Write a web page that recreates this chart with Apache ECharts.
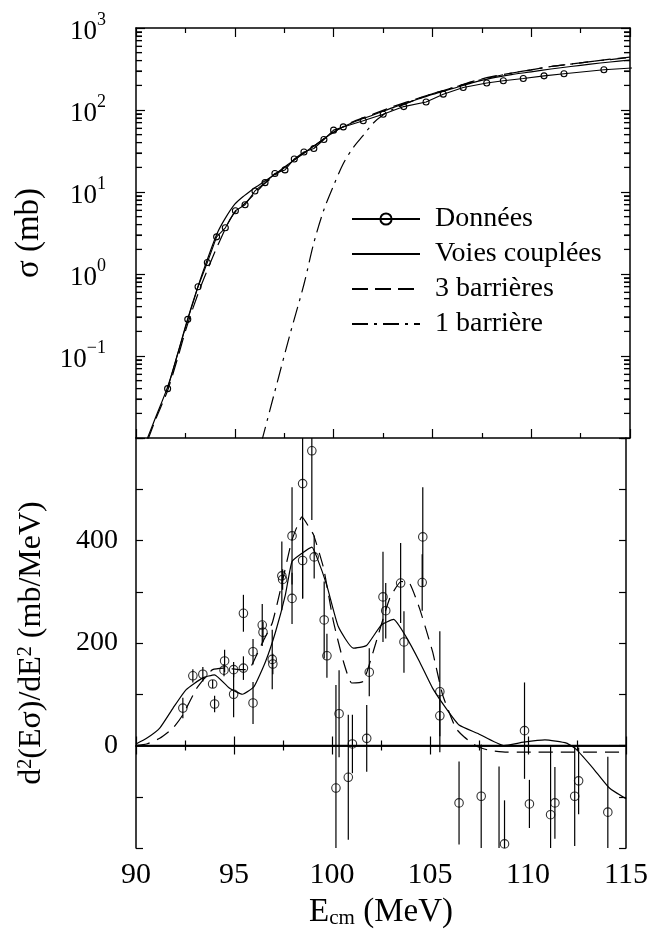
<!DOCTYPE html>
<html><head><meta charset="utf-8">
<script src="https://cdn.jsdelivr.net/npm/echarts@6/dist/echarts.min.js"></script>
<style>html,body{margin:0;padding:0;background:#fff}#c{width:651px;height:935px}</style>
</head><body><div id="c"></div>
<script>
const FONT = '"Liberation Serif", "DejaVu Serif", serif';

// ---------- Top panel (sigma, log scale) ----------
const topDataE = [91.6, 92.62, 93.14, 93.61, 94.08, 94.52, 95.03, 95.52, 96.02, 96.53, 97.03, 97.54, 98.01, 98.5, 99.0, 99.51, 100.0, 100.49, 101.5, 102.51, 103.55, 104.68, 105.55, 106.56, 107.75, 108.59, 109.6, 110.65, 111.66, 113.68, 115.7];
const topDataSigma = [0.040, 0.28, 0.70, 1.38, 2.84, 3.66, 5.9, 7.0, 10.3, 13.0, 16.8, 18.6, 25.3, 30.8, 33.9, 43.7, 56.8, 62.2, 73.8, 88.9, 110, 125, 156, 188, 213, 227, 242, 261, 277, 309, 333];

const topCoupledE = [90.5, 91.0, 91.6, 92.1, 92.6, 93.1, 93.6, 94.1, 94.5, 95.0, 95.5, 96.0, 96.5, 97.0, 98.0, 99.0, 100.0, 101.0, 102.0, 103.0, 104.0, 105.0, 106.0, 107.0, 108.0, 109.0, 110.0, 111.0, 112.0, 113.0, 114.0, 115.0];
const topCoupledSigma = [0.0089, 0.018, 0.042, 0.105, 0.275, 0.66, 1.48, 3.1, 4.7, 7.1, 9.1, 11.2, 13.5, 16.2, 24.5, 36.3, 53.7, 70.8, 87, 107, 129, 155, 182, 214, 245, 270, 292, 316, 339, 363, 385, 407];

const top3BarE = [90.6, 91.0, 91.6, 92.1, 92.6, 93.2, 93.7, 94.25, 94.9, 95.6, 96.0, 96.5, 97.0, 98.0, 99.0, 100.0, 101.0, 102.0, 103.0, 104.0, 105.0, 106.0, 107.0, 108.0, 109.0, 110.0, 111.0, 112.0, 113.0, 114.0, 115.0];
const top3BarSigma = [0.0095, 0.017, 0.038, 0.093, 0.24, 0.63, 1.26, 2.57, 5.25, 7.6, 9.5, 12.6, 15.8, 24.5, 36.3, 53.7, 72.4, 89, 110, 132, 158, 186, 222, 255, 282, 309, 339, 363, 389, 417, 442];

const top1BarE = [96.35, 97.0, 97.8, 98.5, 99.0, 99.5, 100.0, 100.5, 101.0, 101.5, 102.0, 102.5, 103.0, 104.0, 105.0, 106.0, 107.0, 108.0, 109.0, 110.0, 111.0, 112.0, 113.0, 114.0, 115.0];
const top1BarSigma = [0.0089, 0.035, 0.186, 0.75, 2.4, 6.0, 12.0, 22.4, 35, 49, 69, 87, 102, 129, 158, 186, 219, 251, 282, 309, 339, 363, 389, 412, 437];

// ---------- Bottom panel (barrier distribution) ----------
const botDataE   = [92.39, 92.9, 93.41, 93.91, 94.01, 94.52, 94.49, 94.98, 94.98, 95.48, 95.48, 95.97, 95.97, 96.44, 96.48, 96.95, 96.98, 97.44, 97.48, 97.96, 97.96, 98.5, 98.5, 98.97, 99.09, 99.6, 99.74, 100.36, 100.2, 100.83, 101.04, 101.77, 101.9, 102.6, 102.74, 103.5, 103.67, 104.63, 104.6, 105.5, 105.5, 106.48, 107.61, 108.52, 108.8, 109.82, 110.07, 111.15, 111.37, 112.38, 112.58, 114.07];
const botDataV   = [73, 136, 139, 120, 81, 165, 147, 148, 100, 258, 151, 183, 83, 235, 221, 168, 159, 331, 324, 409, 287, 511, 361, 575, 368, 245, 175, 62, -83, -62, 3, 14, 143, 290, 263, 317, 202, 407, 318, 105, 58, -112, -99, -245, -192, 29, -114, -135, -112, -99, -69, -130];
const botDataErr = [20, 13, 14, 8, 16, 22, 12, 15, 45, 36, 23, 25, 41, 41, 20, 58, 20, 67, 20, 95, 50, 224, 74, 135, 42, 75, 43, 85, 201, 122, 57, 65, 47, 88, 54, 78, 60, 97, 55, 118, 40, 81, 101, 204, 85, 94, 47, 136, 70, 97, 65, 108];

const botCoupledE = [90.0, 90.54, 91.21, 91.89, 92.56, 93.41, 94.0, 94.76, 95.43, 96.02, 96.61, 97.12, 97.62, 97.96, 98.47, 98.97, 99.22, 99.73, 100.32, 101.08, 101.76, 102.51, 103.14, 103.78, 104.46, 105.13, 105.81, 106.48, 107.41, 108.76, 109.77, 110.86, 111.96, 112.47, 113.31, 114.15, 115.0];
const botCoupledV = [3, 14, 34, 73, 109, 132, 138, 112, 100, 115, 164, 222, 294, 359, 375, 387, 368, 313, 232, 190, 195, 235, 246, 212, 164, 112, 73, 40, 24, 0, 6.5, 11, 4.7, -8, -44, -83, -104];

const bot3BarE = [90.0, 90.54, 91.21, 91.89, 92.39, 93.07, 93.58, 93.91, 94.58, 95.26, 95.77, 96.11, 96.44, 96.95, 97.45, 97.96, 98.47, 98.81, 99.06, 99.57, 100.07, 100.58, 101.0, 101.59, 102.1, 102.94, 103.53, 103.95, 104.46, 105.13, 105.64, 106.31, 106.73, 107.41, 108.09, 108.93, 115.0];
const bot3BarV = [0, 3, 14, 34, 60, 110, 135, 148, 151, 148, 149, 173, 200, 239, 317, 401, 446, 427, 411, 346, 242, 164, 122, 125, 183, 287, 320, 317, 268, 183, 99, 34, 17, -2, -10, -13, -13];

// tick labels
const xTickLabels = [90, 95, 100, 105, 110, 115];
const yBotTickLabels = [0, 200, 400];
const logDecades = [0.01, 0.1, 1, 10, 100];   // minor ticks at 2..9 x each decade
const logMinorMultipliers = [2, 3, 4, 5, 6, 7, 8, 9];

const zip = (a, b) => a.map((v, i) => [v, b[i]]);
const BLACK = '#000';

const axisLineStyle = { lineStyle: { color: BLACK, width: 1.5 } };

function xAxisDef(grid, pos, labels) {
  return {
    type: 'value', gridIndex: grid, position: pos, min: 90, max: 115, interval: 5,
    axisLine: axisLineStyle,
    axisTick: { inside: true, length: 9, lineStyle: { color: BLACK, width: 1.2 } },
    minorTick: { show: true, splitNumber: 2, length: 5, lineStyle: { color: BLACK, width: 1.2 } },
    splitLine: { show: false }, minorSplitLine: { show: false },
    axisLabel: labels ? {
      show: true, fontFamily: FONT, fontSize: 30, color: BLACK, margin: 12,
      formatter: v => xTickLabels.includes(v) ? String(v) : ''
    } : { show: false }
  };
}

function yLogDef(pos, labels) {
  return {
    type: 'log', gridIndex: 0, position: pos, min: 0.01, max: 1000,
    axisLine: axisLineStyle,
    axisTick: { inside: true, length: 9, lineStyle: { color: BLACK, width: 1.2 } },
    splitLine: { show: false },
    axisLabel: labels ? {
      show: true, fontFamily: FONT, fontSize: 27, color: BLACK, margin: 30,
      formatter: v => {
        const e = Math.round(Math.log10(v));
        if (e <= -2) return '';
        return '{b|10}{s|' + (e < 0 ? '\u2212' + (-e) : e) + '}';
      },
      rich: {
        b: { fontFamily: FONT, fontSize: 27, lineHeight: 34, verticalAlign: 'bottom', color: BLACK },
        s: { fontFamily: FONT, fontSize: 18, lineHeight: 18, verticalAlign: 'top', color: BLACK }
      }
    } : { show: false }
  };
}

// minor tick values of the log axis (2..9 within each decade)
const logMinorTicks = [];
logDecades.forEach(d => logMinorMultipliers.forEach(m => logMinorTicks.push(m * d)));

function yLogMinorDef(pos) {
  return {
    type: 'log', gridIndex: 0, position: pos, min: 0.01, max: 1000,
    axisLine: { show: false },
    axisTick: { show: true, inside: true, length: 6, customValues: logMinorTicks,
                lineStyle: { color: BLACK, width: 1.1 } },
    axisLabel: { show: false },
    splitLine: { show: false }
  };
}

function yLinDef(pos, labels) {
  return {
    type: 'value', gridIndex: 1, position: pos, min: -200, max: 600, interval: 100,
    axisLine: axisLineStyle,
    axisTick: { inside: true, length: 7, lineStyle: { color: BLACK, width: 1.2 } },
    splitLine: { show: false },
    axisLabel: labels ? {
      show: true, fontFamily: FONT, fontSize: 28, color: BLACK, margin: 18,
      formatter: v => yBotTickLabels.includes(v) ? String(v) : ''
    } : { show: false }
  };
}

const xAxes = [
  xAxisDef(0, 'bottom', false),
  xAxisDef(0, 'top', false),
  Object.assign(xAxisDef(1, 'bottom', true), {
    name: 'E{sub|cm} (MeV)', nameLocation: 'middle', nameGap: 48,
    nameTextStyle: {
      fontFamily: FONT, fontSize: 33, color: BLACK,
      rich: { sub: { fontFamily: FONT, fontSize: 21, color: BLACK, verticalAlign: 'bottom', lineHeight: 12 } }
    }
  }),
  xAxisDef(1, 'top', false)
];

const yAxes = [
  Object.assign(yLogDef('left', true), {
    name: '\u03c3 (mb)', nameLocation: 'middle', nameGap: 90, nameRotate: 90,
    nameTextStyle: { fontFamily: FONT, fontSize: 33, color: BLACK }
  }),
  yLogDef('right', false),
  Object.assign(yLinDef('left', true), {
    name: 'd{sup|2}(E\u03c3)/dE{sup|2} (mb/MeV)', nameLocation: 'middle', nameGap: 88, nameRotate: 90,
    nameTextStyle: {
      fontFamily: FONT, fontSize: 32, color: BLACK,
      rich: { sup: { fontFamily: FONT, fontSize: 20, color: BLACK, verticalAlign: 'top', lineHeight: 14 } }
    }
  }),
  yLinDef('right', false),
  yLogMinorDef('left'),
  yLogMinorDef('right')
];

const lineBase = { type: 'line', showSymbol: false, symbol: 'none', animation: false, z: 3 };
const noSym = { opacity: 0 };

const option = {
  animation: false,
  backgroundColor: '#fff',
  grid: [
    { left: 136, top: 28, width: 494, height: 410, containLabel: false },
    { left: 136, top: 438, width: 494, height: 410, containLabel: false }
  ],
  xAxis: xAxes,
  yAxis: yAxes,
  legend: {
    orient: 'vertical', left: 351, top: 205, itemWidth: 68, itemHeight: 14, itemGap: 7, padding: 0,
    data: [
      { name: 'Donn\u00e9es' },
      { name: 'Voies coupl\u00e9es', itemStyle: noSym },
      { name: '3 barri\u00e8res', itemStyle: noSym },
      { name: '1 barri\u00e8re', itemStyle: noSym }
    ],
    textStyle: { fontFamily: FONT, fontSize: 28, color: BLACK, padding: [0, 0, 0, 10] },
    selectedMode: false
  },
  series: [
    {
      name: 'logMinorTicks', type: 'custom', xAxisIndex: 0, yAxisIndex: 0, animation: false, silent: true,
      data: logMinorTicks.map(v => [90, v]),
      renderItem: (params, api) => {
        const pl = api.coord([api.value(0), api.value(1)]);
        const xr = api.coord([115, api.value(1)])[0];
        return { type: 'group', children: [
          { type: 'rect', shape: { x: pl[0], y: pl[1] - 0.5, width: 6, height: 1.1 }, style: { fill: BLACK } },
          { type: 'rect', shape: { x: xr - 6, y: pl[1] - 0.5, width: 6, height: 1.1 }, style: { fill: BLACK } }
        ] };
      },
      z: 5
    },
    {
      name: 'Donn\u00e9es', type: 'line', xAxisIndex: 0, yAxisIndex: 0,
      data: zip(topDataE, topDataSigma),
      symbol: 'circle', symbolSize: 6, showSymbol: true,
      itemStyle: { color: 'rgba(0,0,0,0)', borderColor: BLACK, borderWidth: 1.1 },
      lineStyle: { color: BLACK, width: 1.1 }, z: 4, animation: false
    },
    Object.assign({}, lineBase, {
      name: 'Voies coupl\u00e9es', xAxisIndex: 0, yAxisIndex: 0, smooth: 0.3,
      data: zip(topCoupledE, topCoupledSigma),
      lineStyle: { color: BLACK, width: 1.2, type: 'solid' }, itemStyle: { color: BLACK }
    }),
    Object.assign({}, lineBase, {
      name: '3 barri\u00e8res', xAxisIndex: 0, yAxisIndex: 0, smooth: 0.3,
      data: zip(top3BarE, top3BarSigma),
      lineStyle: { color: BLACK, width: 1.2, type: [16, 7] }, itemStyle: { color: BLACK }
    }),
    Object.assign({}, lineBase, {
      name: '1 barri\u00e8re', xAxisIndex: 0, yAxisIndex: 0, smooth: 0.3,
      data: zip(top1BarE, top1BarSigma),
      lineStyle: { color: BLACK, width: 1.2, type: [16, 6, 3, 6] }, itemStyle: { color: BLACK }
    }),
    // bottom panel
    {
      name: 'errbars', type: 'custom', xAxisIndex: 2, yAxisIndex: 2, clip: true, animation: false, silent: true,
      data: botDataE.map((e, i) => [e, botDataV[i] - botDataErr[i], botDataV[i] + botDataErr[i]]),
      encode: { x: 0, y: [1, 2] },
      renderItem: (params, api) => {
        const p1 = api.coord([api.value(0), api.value(1)]);
        const p2 = api.coord([api.value(0), api.value(2)]);
        return { type: 'line', shape: { x1: p1[0], y1: p1[1], x2: p2[0], y2: p2[1] },
                 style: { stroke: BLACK, lineWidth: 1.2 } };
      },
      z: 2
    },
    {
      name: 'points', type: 'scatter', xAxisIndex: 2, yAxisIndex: 2, animation: false,
      data: zip(botDataE, botDataV),
      symbol: 'circle', symbolSize: 8.5, clip: true,
      itemStyle: { color: 'rgba(0,0,0,0)', borderColor: BLACK, borderWidth: 1.1 },
      markLine: {
        silent: true, symbol: 'none', animation: false, label: { show: false },
        lineStyle: { color: BLACK, width: 1.3, type: 'solid' },
        data: [{ yAxis: 0 }]
      },
      z: 3
    },
    Object.assign({}, lineBase, {
      name: 'coupled-bottom', xAxisIndex: 2, yAxisIndex: 2, smooth: 0.15,
      data: zip(botCoupledE, botCoupledV),
      lineStyle: { color: BLACK, width: 1.2, type: 'solid' }
    }),
    Object.assign({}, lineBase, {
      name: '3bar-bottom', xAxisIndex: 2, yAxisIndex: 2, smooth: 0.15,
      data: zip(bot3BarE, bot3BarV),
      lineStyle: { color: BLACK, width: 1.2, type: [14, 8] }
    })
  ]
};

const chart = echarts.init(document.getElementById('c'), null, { renderer: 'canvas' });
chart.setOption(option);
</script>
</body></html>
